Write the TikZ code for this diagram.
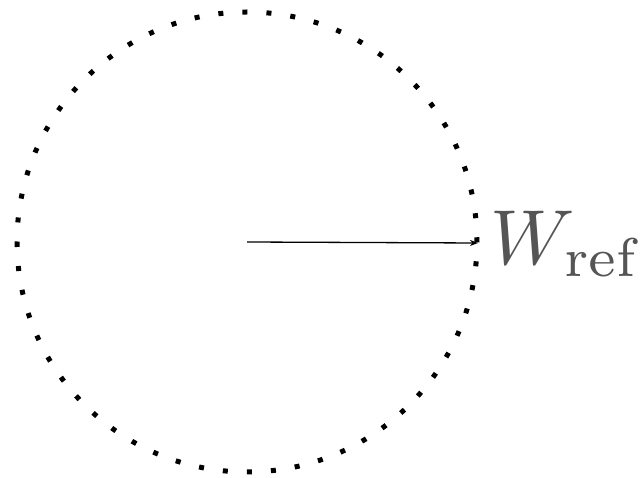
\documentclass[tikz,border=0pt]{standalone}
\usetikzlibrary{arrows.meta}
\definecolor{labelgray}{HTML}{555555}
\tikzset{
  dotring/.style={line width=5pt, dash pattern=on 5pt off 19.08pt},
  radius arrow/.style={line width=1.3pt, -{Stealth[length=8pt,width=6pt,inset=2.5pt]}},
  biglabel/.style={text=labelgray, inner sep=0pt, scale=7.8}
}
\begin{document}
\begin{tikzpicture}[x=1pt,y=-1pt]
\useasboundingbox (0,0) rectangle (641,478);
\coordinate (c) at (247,242);
\coordinate (r) at (478,243);
\draw[dotring] (c) ++(-230,0) arc[start angle=180, end angle=-180, radius=230];
\draw[radius arrow] (c) -- (r);
\node[biglabel, anchor=base west] (lab) at (489,265) {$W_{\mathrm{ref}}$};
\end{tikzpicture}
\end{document}
